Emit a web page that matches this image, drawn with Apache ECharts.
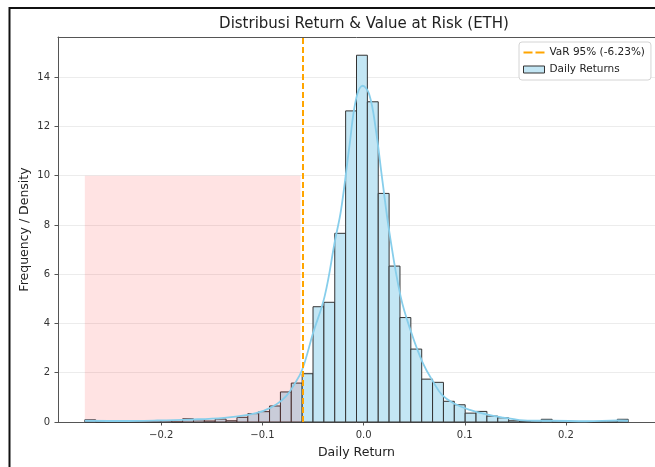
<!DOCTYPE html>
<html>
<head>
<meta charset="utf-8">
<script src="https://cdn.jsdelivr.net/npm/echarts@6/dist/echarts.min.js"></script>
<style>
html, body { margin: 0; padding: 0; background: #fff; }
#chart { width: 655px; height: 467px; }
</style>
</head>
<body>
<div id="chart"></div>
<script>
// histogram of daily returns: 50 equal bins between min and max return
const returnMin = -0.2755;
const returnMax = 0.2615;
const binCount = 50;
const binHeights = [
  0.09, 0, 0, 0, 0, 0, 0, 0.05, 0, 0.13,
  0.09, 0.04, 0.12, 0.05, 0.19, 0.34, 0.42, 0.65, 1.22, 1.58,
  1.96, 4.68, 4.86, 7.66, 12.63, 14.89, 13.0, 9.28, 6.33, 4.24,
  2.96, 1.74, 1.61, 0.84, 0.70, 0.36, 0.43, 0.24, 0.17, 0.05,
  0.03, 0, 0.11, 0, 0, 0, 0, 0, 0, 0.11
];

// kde curve
const kdeX = [-0.2755, -0.241, -0.204, -0.171, -0.138, -0.116, -0.099, -0.086, -0.0765, -0.0696,
  -0.0608, -0.05, -0.0385, -0.0281, -0.0223, -0.014, -0.0075, -0.001, 0.0056, 0.012,
  0.0186, 0.0255, 0.0366, 0.0474, 0.0585, 0.0693, 0.0775, 0.0889, 0.105, 0.1216,
  0.138, 0.154, 0.171, 0.186, 0.22, 0.252, 0.2615];
const kdeY = [0.05, 0.04, 0.06, 0.1, 0.17, 0.28, 0.45, 0.72, 1.05, 1.45,
  2.11, 3.6, 5.1, 7.4, 8.6, 11.2, 13.1, 13.65, 13.3, 11.9,
  9.8, 7.7, 5.1, 3.6, 2.4, 1.6, 1.1, 0.76, 0.49, 0.31,
  0.18, 0.08, 0.05, 0.05, 0.03, 0.06, 0.05];

const varValue = -0.0623;
const varLabel = 'VaR 95% (-6.23%)';
const spanTop = 10;

const xTicks = [-0.2, -0.1, 0, 0.1, 0.2];
const yTicks = [0, 2, 4, 6, 8, 10, 12, 14];

const binWidth = (returnMax - returnMin) / binCount;
const histData = binHeights.map((h, i) => [returnMin + i * binWidth, returnMin + (i + 1) * binWidth, h]);
const kdeData = kdeX.map((x, i) => [x, kdeY[i]]);

const font = 'DejaVu Sans';
const spine = '#555';

const fmtX = v => (v < 0 ? '\u2212' : '') + Math.abs(v).toFixed(1);

// rect between two x values, from 0 up to a height
function rectItem(api, fill, stroke) {
  let p0 = api.coord([api.value(0), api.value(2)]);
  let p1 = api.coord([api.value(1), 0]);
  return {
    type: 'rect',
    shape: { x: p0[0], y: p0[1], width: p1[0] - p0[0], height: p1[1] - p0[1] },
    style: stroke ? { fill: fill, stroke: stroke, lineWidth: 1 } : { fill: fill }
  };
}

let chart = echarts.init(document.getElementById('chart'), null, { renderer: 'canvas' });

let option = {
  backgroundColor: '#fff',
  animation: false,
  textStyle: { fontFamily: font },
  title: {
    text: 'Distribusi Return & Value at Risk (ETH)',
    left: 359,
    top: 12,
    textAlign: 'center',
    textStyle: { fontSize: 15, fontWeight: 'normal', color: '#222', fontFamily: font }
  },
  legend: {
    orient: 'vertical',
    left: 519,
    top: 42,
    backgroundColor: '#fff',
    borderColor: '#d4d4d4',
    borderWidth: 1,
    borderRadius: 3,
    padding: [5, 6, 5, 4],
    itemWidth: 21,
    itemHeight: 7,
    itemGap: 6,
    textStyle: { fontSize: 10.5, color: '#222', fontFamily: font },
    data: [
      { name: varLabel, icon: 'path://M0,0H9V2H0Z M12,0H21V2H12Z', itemStyle: { color: '#ffa500', borderWidth: 0 } },
      { name: 'Daily Returns', icon: 'rect', itemStyle: { color: '#c3e6f4', borderColor: '#333', borderWidth: 1 } }
    ]
  },
  grid: { left: 58, right: -5, top: 37, bottom: 45 },
  xAxis: [{
    type: 'value',
    min: -0.302,
    max: 0.288,
    name: 'Daily Return',
    nameLocation: 'middle',
    nameGap: 24,
    nameMoveOverlap: false,
    nameTextStyle: { fontSize: 12.5, color: '#222', fontFamily: font },
    axisLine: { onZero: false, lineStyle: { color: spine, width: 1 } },
    axisTick: { customValues: xTicks, length: 3.5, lineStyle: { color: spine } },
    axisLabel: { customValues: xTicks, formatter: fmtX, fontSize: 10, color: '#333', margin: 8 },
    splitLine: { show: false }
  }, {
    type: 'value',
    position: 'top',
    min: -0.302,
    max: 0.288,
    axisLine: { show: true, onZero: false, lineStyle: { color: spine, width: 1 } },
    axisTick: { show: false },
    axisLabel: { show: false },
    splitLine: { show: false }
  }],
  yAxis: {
    type: 'value',
    min: 0,
    max: 15.63,
    name: 'Frequency / Density',
    nameLocation: 'middle',
    nameGap: 27,
    nameMoveOverlap: false,
    nameTextStyle: { fontSize: 12.5, color: '#222', fontFamily: font },
    axisLine: { show: true, onZero: false, lineStyle: { color: spine, width: 1 } },
    axisTick: { show: true, customValues: yTicks, length: 3.5, lineStyle: { color: spine } },
    axisLabel: { customValues: yTicks, fontSize: 10, color: '#333', margin: 8 },
    splitLine: { show: true, lineStyle: { color: '#ececec', width: 1 } }
  },
  graphic: [{
    type: 'polyline',
    shape: { points: [[9.5, 467], [9.5, 8], [655, 8]] },
    style: { stroke: '#111', lineWidth: 2, fill: null },
    z: 100
  }],
  series: [{
    name: 'Daily Returns',
    type: 'custom',
    z: 2,
    itemStyle: { color: '#c3e6f4', borderColor: '#333', borderWidth: 1 },
    encode: { x: [0, 1], y: 2 },
    renderItem: (params, api) => rectItem(api, '#c3e6f4', '#333'),
    data: histData
  }, {
    // shaded tail left of VaR, drawn over the bars
    name: 'tail',
    type: 'custom',
    z: 3,
    silent: true,
    encode: { x: [0, 1], y: 2 },
    renderItem: (params, api) => rectItem(api, 'rgba(255, 0, 0, 0.11)'),
    data: [[returnMin, varValue, spanTop]]
  }, {
    name: 'kde',
    type: 'line',
    z: 4,
    smooth: 0.4,
    showSymbol: false,
    lineStyle: { color: '#87ceeb', width: 1.8 },
    itemStyle: { color: '#87ceeb' },
    data: kdeData
  }, {
    name: varLabel,
    type: 'line',
    z: 5,
    data: [],
    itemStyle: { color: '#ffa500' },
    lineStyle: { color: '#ffa500', width: 2, type: [6, 3] },
    markLine: {
      silent: true,
      symbol: ['none', 'none'],
      label: { show: false },
      lineStyle: { color: '#ffa500', width: 2, type: [6, 3] },
      data: [{ xAxis: varValue }]
    }
  }]
};

chart.setOption(option);
</script>
</body>
</html>
